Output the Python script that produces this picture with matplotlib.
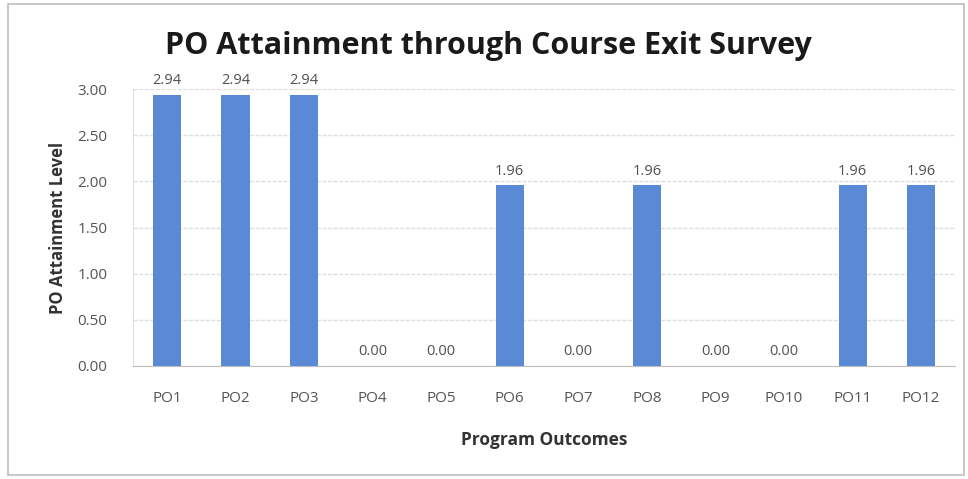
import matplotlib
matplotlib.use('Agg')
import matplotlib.pyplot as plt
from matplotlib.patches import Rectangle

outcomes = ['PO1', 'PO2', 'PO3', 'PO4', 'PO5', 'PO6', 'PO7', 'PO8', 'PO9', 'PO10', 'PO11', 'PO12']
attainment = [2.94, 2.94, 2.94, 0.00, 0.00, 1.96, 0.00, 1.96, 0.00, 0.00, 1.96, 1.96]
yticks = [0.0, 0.5, 1.0, 1.5, 2.0, 2.5, 3.0]

plt.rcParams['font.family'] = ['Open Sans', 'DejaVu Sans']

fig = plt.figure(figsize=(9.68, 4.79), dpi=100)
fig.patches.append(Rectangle((0.008, 0.008), 0.988, 0.984, transform=fig.transFigure,
                             fill=False, edgecolor='#bdbdbd', linewidth=1.2))
ax = fig.add_axes([0.137, 0.236, 0.850, 0.578])

x = range(len(outcomes))
ax.bar(x, attainment, width=0.41, color='#5a8ad6', zorder=3)
for xi, v in zip(x, attainment):
    ax.text(xi, v + 0.07, f'{v:.2f}', ha='center', va='bottom', fontsize=10.5, color='#505050')

ax.set_xlim(-0.5, len(outcomes) - 0.5)
ax.set_ylim(0, 3.0)
ax.set_yticks(yticks)
ax.set_yticklabels([f'{t:.2f}' for t in yticks])
ax.set_xticks(list(x))
ax.set_xticklabels(outcomes)
ax.tick_params(axis='both', length=0, labelsize=11, colors='#555555')
ax.tick_params(axis='x', pad=18)
ax.tick_params(axis='y', pad=18)
ax.grid(axis='y', color='#e0e0e0', linestyle=(0, (3, 1)), linewidth=1, zorder=0)
for s in ['top', 'right']:
    ax.spines[s].set_visible(False)
ax.spines['left'].set_color('#e0e0e0')
ax.spines['bottom'].set_color('#bfbfbf')

ax.set_ylabel('PO Attainment Level', fontsize=12, fontweight='bold', color='#333333', labelpad=8)
ax.set_xlabel('Program Outcomes', fontsize=12.5, fontweight='bold', color='#333333', labelpad=18)
fig.text(0.505, 0.905, 'PO Attainment through Course Exit Survey', ha='center', va='center',
         fontsize=22, fontweight='bold', color='#1a1a1a')

fig.savefig('out.png', dpi=100)
